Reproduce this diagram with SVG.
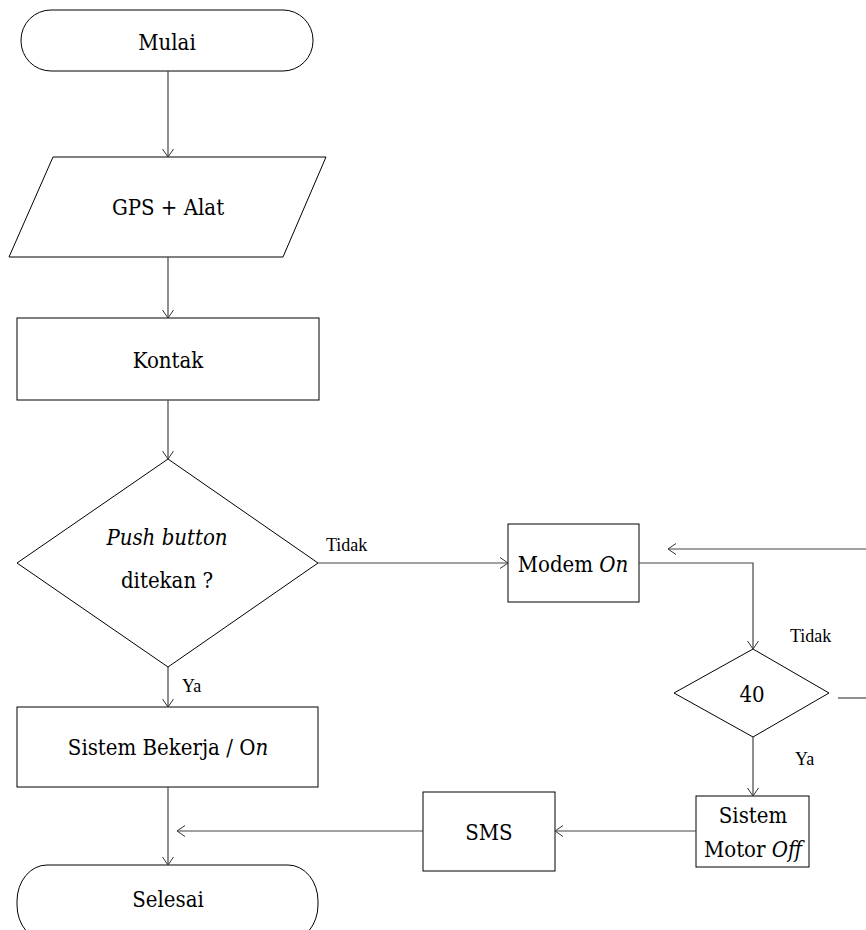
<svg xmlns="http://www.w3.org/2000/svg" width="866" height="930" viewBox="0 0 866 930">
<style>
.s{fill:#fff;stroke:#000;stroke-width:1}
.c{fill:none;stroke:#444;stroke-width:1.2}
text{font-family:'Liberation Serif',serif;font-size:18px;fill:#000}
.t{font-family:'DejaVu Serif Condensed','DejaVu Serif',serif;font-stretch:condensed;font-size:22px;text-anchor:middle}
</style>
<defs>
<marker id="a" markerUnits="userSpaceOnUse" markerWidth="12" markerHeight="12" refX="9" refY="6" orient="auto">
<path d="M1,0.5 L9,6 L1,11.5" fill="none" stroke="#333" stroke-width="1"/>
</marker>
</defs>
<rect width="866" height="930" fill="#fff"/>
<g id="mulai"><rect class="s" x="21" y="10" width="292" height="61" rx="30" ry="30"/><text class="t" x="167" y="50">Mulai</text></g>
<g id="gps"><polygon class="s" points="53,157 326,157 283,257 9,257"/><text class="t" x="168" y="215">GPS + Alat</text></g>
<g id="kontak"><rect class="s" x="17" y="318" width="302" height="82"/><text class="t" x="168" y="368">Kontak</text></g>
<g id="push"><polygon class="s" points="168,459 318,563 168,667 17,563"/><text class="t" x="167" y="545" font-style="italic">Push button</text><text class="t" x="167" y="588">ditekan ?</text></g>
<g id="sistem"><rect class="s" x="17" y="707" width="301" height="80"/><text class="t" x="168" y="755">Sistem Bekerja / O<tspan font-style="italic">n</tspan></text></g>
<g id="selesai"><rect class="s" x="17" y="865" width="301" height="76" rx="30" ry="36"/><text class="t" x="168" y="907">Selesai</text></g>
<g id="modem"><rect class="s" x="508" y="524" width="131" height="78"/><text class="t" x="573" y="572">Modem <tspan font-style="italic">On</tspan></text></g>
<g id="d40"><polygon class="s" points="753,649 829,693 753,737 674,693"/><text class="t" x="752" y="702">40</text></g>
<g id="motor"><rect class="s" x="696" y="796" width="113" height="71"/><text class="t" x="753" y="823">Sistem</text><text class="t" x="753" y="857">Motor <tspan font-style="italic">Off</tspan></text></g>
<g id="sms"><rect class="s" x="423" y="792" width="132" height="79"/><text class="t" x="489" y="840">SMS</text></g>
<g id="connectors">
<path class="c" d="M168,71 V157" marker-end="url(#a)"/>
<path class="c" d="M168,257 V318" marker-end="url(#a)"/>
<path class="c" d="M168,400 V459" marker-end="url(#a)"/>
<path class="c" d="M168,667 V707" marker-end="url(#a)"/>
<path class="c" d="M168,787 V865" marker-end="url(#a)"/>
<path class="c" d="M318,563 H508" marker-end="url(#a)"/>
<path class="c" d="M639,563 H753 V649" marker-end="url(#a)"/>
<path class="c" d="M866,549 H668" marker-end="url(#a)"/>
<path class="c" d="M838,698 H866"/>
<path class="c" d="M753,737 V796" marker-end="url(#a)"/>
<path class="c" d="M696,831 H555" marker-end="url(#a)"/>
<path class="c" d="M423,831 H177" marker-end="url(#a)"/>
<text x="326" y="551">Tidak</text>
<text x="182" y="692">Ya</text>
<text x="790" y="642">Tidak</text>
<text x="795" y="765">Ya</text>
</g>
</svg>
